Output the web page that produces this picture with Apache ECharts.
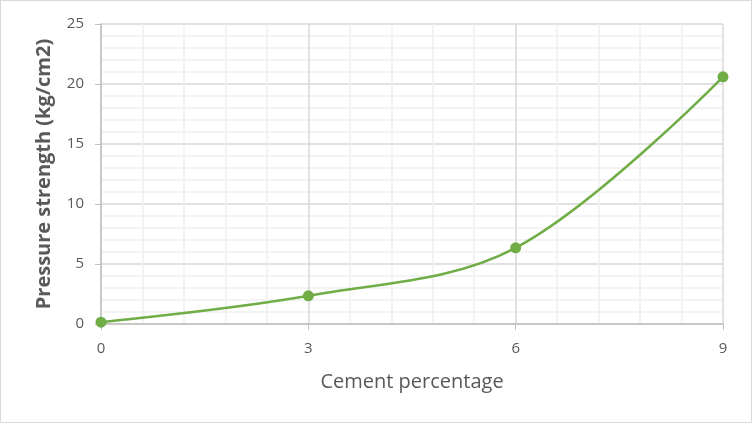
<!DOCTYPE html>
<html>
<head>
<meta charset="utf-8">
<script src="https://cdn.jsdelivr.net/npm/echarts@6/dist/echarts.min.js"></script>
<style>
  html, body { margin: 0; padding: 0; background: #fff; }
  #chart { width: 752px; height: 423px; box-sizing: border-box; border: 1px solid #d9d9d9; }
</style>
</head>
<body>
<div id="chart"></div>
<script>
// cement % vs pressure strength
const cementPct = [0, 3, 6, 9]
const strength = [0.15, 2.35, 6.35, 20.6]
const xTicks = [0, 3, 6, 9]
const yTicks = [0, 5, 10, 15, 20, 25]

const textColor = '#595959'
const fontFam = '"Open Sans", "Liberation Sans", sans-serif'

const chart = echarts.init(document.getElementById('chart'))
chart.setOption({
  animation: false,
  grid: { left: 100, right: 28, top: 23, bottom: 98 },
  xAxis: {
    type: 'value',
    min: xTicks[0],
    max: xTicks[xTicks.length - 1],
    interval: 3,
    name: 'Cement percentage',
    nameLocation: 'middle',
    nameGap: 48,
    nameTextStyle: { color: textColor, fontSize: 20, fontFamily: fontFam },
    axisLine: { lineStyle: { color: '#bfbfbf', width: 1.5 } },
    axisTick: { show: true, length: 6, lineStyle: { color: '#bfbfbf' } },
    axisLabel: { color: textColor, fontSize: 15, fontFamily: fontFam, margin: 17 },
    splitLine: { show: true, lineStyle: { color: '#d9d9d9', width: 1.5 } },
    minorTick: { show: false, splitNumber: 5 },
    minorSplitLine: { show: true, lineStyle: { color: '#efefef', width: 1.5 } }
  },
  yAxis: {
    type: 'value',
    min: yTicks[0],
    max: yTicks[yTicks.length - 1],
    interval: 5,
    name: 'Pressure strength (kg/cm2)',
    nameLocation: 'middle',
    nameGap: 47,
    nameTextStyle: { color: textColor, fontSize: 20, fontWeight: 'bold', fontFamily: fontFam },
    axisLine: { show: true, lineStyle: { color: '#bfbfbf', width: 1.5 } },
    axisTick: { show: true, length: 6, lineStyle: { color: '#bfbfbf' } },
    axisLabel: { color: textColor, fontSize: 15, fontFamily: fontFam, margin: 17 },
    splitLine: { show: true, lineStyle: { color: '#d9d9d9', width: 1.5 } },
    minorTick: { show: false, splitNumber: 5 },
    minorSplitLine: { show: true, lineStyle: { color: '#efefef', width: 1.5 } }
  },
  series: [
    {
      type: 'line',
      data: cementPct.map((x, i) => [x, strength[i]]),
      smooth: 0.35,
      symbol: 'circle',
      symbolSize: 11,
      itemStyle: { color: '#70ad47' },
      lineStyle: { color: '#70ad47', width: 2.5 }
    }
  ]
})
</script>
</body>
</html>
